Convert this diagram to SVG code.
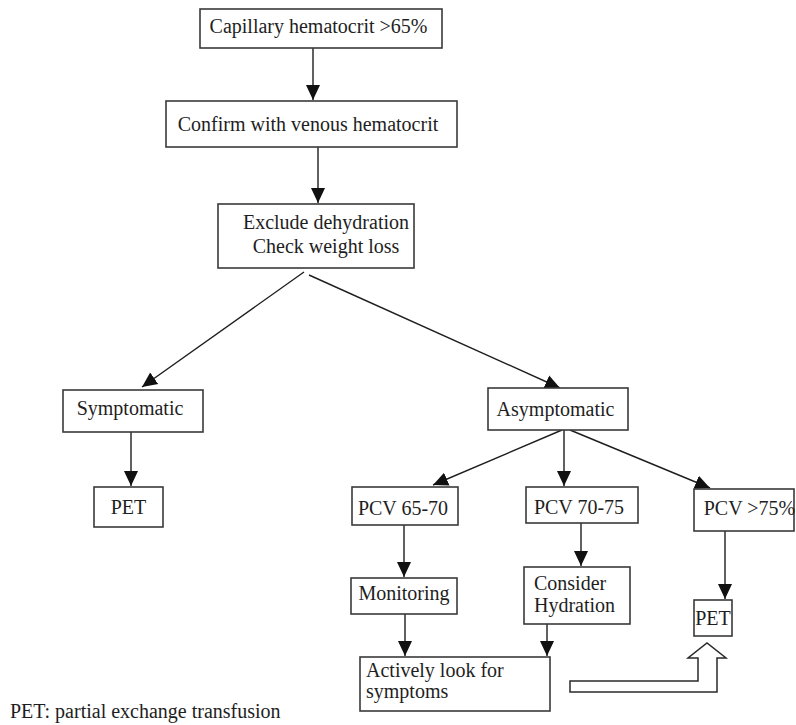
<svg xmlns="http://www.w3.org/2000/svg" width="796" height="725" viewBox="0 0 796 725">
<defs>
<style>
.box{fill:#fff;stroke:#3a3a3a;stroke-width:1.6}
.t{font-family:"Liberation Serif","Times New Roman",serif;font-size:20px;fill:#1e1e1e}
.c{text-anchor:middle}
.ln{stroke:#1e1e1e;stroke-width:1.4;fill:none}
</style>
<marker id="ah" markerUnits="userSpaceOnUse" markerWidth="16" markerHeight="16" viewBox="0 0 16 16" refX="15" refY="8" orient="auto">
<path d="M0,1 L15,8 L0,15 Z" fill="#111"/>
</marker>
</defs>
<rect width="796" height="725" fill="#fff"/>
<g id="connectors">
<line class="ln" x1="313" y1="48" x2="313" y2="100" marker-end="url(#ah)"/>
<line class="ln" x1="318" y1="147" x2="318" y2="203" marker-end="url(#ah)"/>
<line class="ln" x1="304" y1="272" x2="142" y2="387" marker-end="url(#ah)"/>
<line class="ln" x1="309" y1="275" x2="560" y2="388" marker-end="url(#ah)"/>
<line class="ln" x1="131" y1="432" x2="131" y2="486" marker-end="url(#ah)"/>
<line class="ln" x1="562" y1="430" x2="433" y2="485" marker-end="url(#ah)"/>
<line class="ln" x1="564" y1="430" x2="564" y2="486" marker-end="url(#ah)"/>
<line class="ln" x1="570" y1="430" x2="710" y2="488" marker-end="url(#ah)"/>
<line class="ln" x1="404" y1="525" x2="404" y2="577" marker-end="url(#ah)"/>
<line class="ln" x1="581" y1="523" x2="581" y2="566" marker-end="url(#ah)"/>
<line class="ln" x1="725" y1="531" x2="725" y2="599" marker-end="url(#ah)"/>
<line class="ln" x1="405" y1="614" x2="405" y2="656" marker-end="url(#ah)"/>
<line class="ln" x1="547" y1="624" x2="547" y2="656" marker-end="url(#ah)"/>
<path id="hollow-arrow" d="M570,692 L570,681 L698,681 L698,658 L688,658 L707,643 L726,658 L717,658 L717,692 Z" fill="#fff" stroke="#2a2a2a" stroke-width="1.5" stroke-linejoin="miter"/>
</g>
<g id="n-capillary"><rect class="box" x="200" y="9" width="242" height="39"/><text class="t c" x="318.5" y="33">Capillary hematocrit &gt;65%</text></g>
<g id="n-confirm"><rect class="box" x="166" y="101" width="291" height="46"/><text class="t c" x="308" y="131">Confirm with venous hematocrit</text></g>
<g id="n-exclude"><rect class="box" x="218" y="204" width="196" height="64"/><text class="t c" x="326" y="229">Exclude dehydration</text><text class="t c" x="326" y="253">Check weight loss</text></g>
<g id="n-symptomatic"><rect class="box" x="63" y="390" width="140" height="42"/><text class="t c" x="130" y="415">Symptomatic</text></g>
<g id="n-pet1"><rect class="box" x="94" y="487" width="69" height="40"/><text class="t c" x="128.5" y="514">PET</text></g>
<g id="n-asymptomatic"><rect class="box" x="488" y="388" width="140" height="42"/><text class="t c" x="555.5" y="416">Asymptomatic</text></g>
<g id="n-pcv6570"><rect class="box" x="352" y="487" width="106" height="38"/><text class="t c" x="403" y="515">PCV 65-70</text></g>
<g id="n-pcv7075"><rect class="box" x="526" y="487" width="112" height="36"/><text class="t c" x="579" y="514">PCV 70-75</text></g>
<g id="n-pcv75"><rect class="box" x="694" y="489" width="100" height="42"/><text class="t c" x="749.5" y="515">PCV &gt;75%</text></g>
<g id="n-monitoring"><rect class="box" x="351" y="578" width="106" height="36"/><text class="t c" x="404" y="600">Monitoring</text></g>
<g id="n-hydration"><rect class="box" x="524" y="567" width="106" height="57"/><text class="t" x="534" y="590">Consider</text><text class="t" x="534" y="612">Hydration</text></g>
<g id="n-pet2"><rect class="box" x="694" y="600" width="38" height="36"/><text class="t c" x="713" y="625">PET</text></g>
<g id="n-actively"><rect class="box" x="360" y="657" width="190" height="54"/><text class="t" x="366" y="677">Actively look for</text><text class="t" x="366" y="698">symptoms</text></g>
<text class="t" x="10" y="718">PET: partial exchange transfusion</text>
</svg>
